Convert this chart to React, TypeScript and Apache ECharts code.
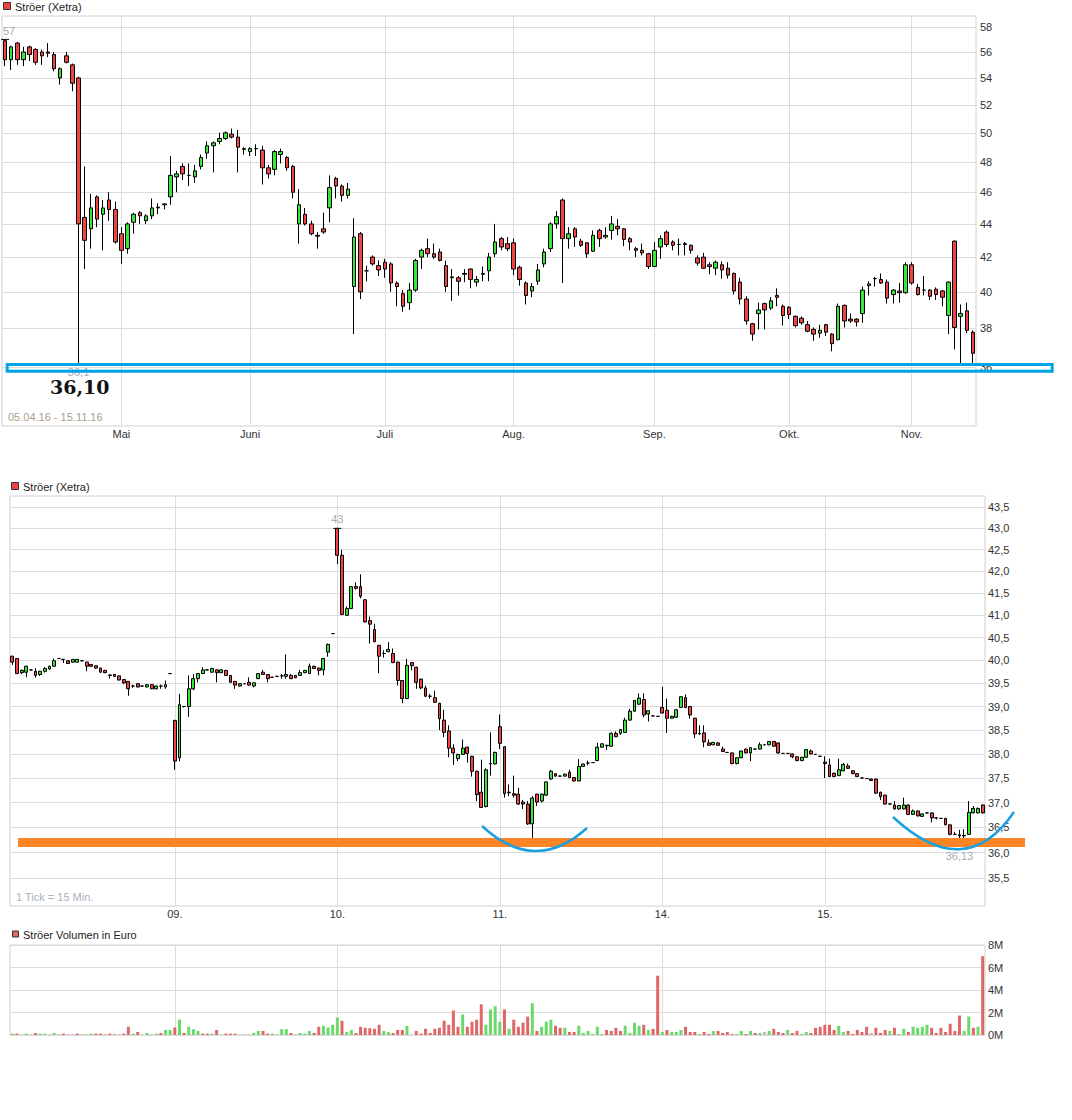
import React, { useEffect, useRef } from 'react';
import * as echarts from 'echarts';

// ---------- categories / ticks ----------
const holidays = ['2016-05-16', '2016-10-03'];
const monthNames = ['Jan.', 'Feb.', 'März', 'April', 'Mai', 'Juni', 'Juli', 'Aug.', 'Sep.', 'Okt.', 'Nov.', 'Dez.'];
const topTicks = [36, 38, 40, 42, 44, 46, 48, 50, 52, 54, 56, 58];
const midTicks = [35.5, 36, 36.5, 37, 37.5, 38, 38.5, 39, 39.5, 40, 40.5, 41, 41.5, 42, 42.5, 43, 43.5];
const intradayDayLabels = ['08.', '09.', '10.', '11.', '14.', '15.'];
const slotsPerDay = 35;

// ---------- daily OHLC [open, close, low, high] ----------
const apr = [
  [56.9, 55.4, 54.9, 57.0], [55.4, 56.4, 54.6, 56.5], [56.7, 55.4, 55.0, 56.8], [55.4, 56.0, 54.9, 56.4],
  [56.4, 55.8, 55.3, 56.5], [56.2, 55.2, 55.0, 56.3], [56.0, 55.7, 55.0, 56.2], [56.0, 55.9, 55.6, 56.7],
  [55.8, 54.7, 54.5, 56.0], [54.0, 54.7, 53.5, 54.8], [55.7, 55.2, 55.1, 56.0], [55.0, 53.6, 53.0, 55.1],
  [54.0, 44.0, 36.1, 54.1], [44.4, 43.0, 41.3, 47.7], [43.7, 45.0, 42.5, 45.9], [45.7, 44.3, 43.8, 45.8],
  [44.6, 45.0, 42.4, 45.5], [45.5, 44.9, 44.2, 46.0], [44.9, 42.9, 42.8, 45.4],
];
const may = [
  [43.4, 42.4, 41.6, 43.8], [42.5, 44.0, 42.2, 44.1], [44.1, 44.6, 43.4, 44.7], [44.7, 44.5, 44.0, 44.8],
  [44.2, 44.5, 44.0, 44.6], [44.5, 45.0, 44.3, 45.6], [45.0, 45.05, 44.6, 45.3], [45.2, 45.25, 44.9, 45.3],
  [45.7, 47.1, 45.2, 48.4], [47.0, 47.2, 46.0, 47.4], [47.7, 47.2, 46.8, 47.9], [47.1, 47.1, 46.4, 47.9],
  [47.0, 47.4, 46.6, 47.8], [47.7, 48.3, 47.5, 48.5], [48.6, 49.1, 48.2, 49.4], [49.1, 49.3, 47.3, 49.4],
  [49.4, 49.6, 49.2, 50.0], [49.6, 50.0, 49.5, 50.1], [49.9, 49.7, 49.6, 50.3], [49.7, 49.0, 47.3, 50.2],
  [48.9, 48.85, 48.5, 49.0],
];
const jun = [
  [48.7, 48.9, 48.4, 49.0], [48.9, 48.9, 48.4, 49.2], [48.8, 47.6, 46.5, 49.1], [47.6, 47.2, 46.9, 47.8],
  [47.5, 48.7, 47.1, 48.8], [48.5, 48.7, 47.9, 48.9], [48.3, 47.6, 47.4, 48.4], [47.7, 46.0, 45.6, 47.8],
  [44.0, 45.2, 42.8, 46.2], [44.6, 44.0, 43.9, 45.0], [44.0, 43.4, 43.3, 44.2], [43.3, 43.25, 42.5, 43.5],
  [43.7, 43.5, 43.4, 44.7], [45.0, 46.3, 44.1, 47.1], [46.9, 46.4, 45.6, 47.0], [46.4, 45.8, 45.4, 46.5],
  [45.8, 46.2, 45.6, 46.6], [40.3, 43.2, 37.7, 44.35], [43.4, 40.0, 39.6, 43.5], [41.2, 41.2, 40.6, 41.5],
  [42.0, 41.6, 41.5, 42.1], [41.5, 41.25, 40.9, 41.8],
];
const jul = [
  [41.7, 41.3, 40.8, 41.9], [41.6, 40.5, 40.0, 41.7], [40.5, 40.3, 39.2, 40.6], [39.9, 39.2, 38.9, 40.1],
  [39.4, 40.1, 39.0, 40.5], [40.1, 41.8, 40.0, 41.9], [42.0, 42.4, 41.3, 42.5], [42.5, 42.2, 42.0, 43.1],
  [42.2, 42.0, 41.9, 42.8], [42.3, 41.8, 41.75, 42.5], [41.5, 40.3, 40.0, 41.8], [40.85, 40.8, 39.5, 41.3],
  [40.8, 40.6, 39.8, 40.9], [41.05, 41.0, 40.55, 41.3], [41.3, 40.7, 40.2, 41.35], [40.55, 40.7, 40.3, 40.9],
  [41.05, 41.0, 40.6, 41.45], [41.2, 42.0, 40.6, 42.25], [42.2, 42.9, 42.0, 44.0], [43.1, 42.6, 42.4, 43.2],
  [42.8, 42.5, 42.35, 43.2],
];
const aug = [
  [42.85, 41.3, 40.95, 43.1], [41.4, 40.7, 40.35, 41.5], [40.5, 39.8, 39.3, 40.6], [40.05, 40.3, 39.7, 40.5],
  [40.6, 41.25, 40.4, 41.6], [41.6, 42.3, 41.4, 42.5], [42.5, 44.0, 42.3, 44.1], [44.0, 44.45, 43.7, 44.8],
  [45.5, 43.1, 40.5, 45.6], [43.1, 43.4, 42.5, 43.8], [43.7, 43.2, 42.6, 43.8], [42.95, 42.7, 42.6, 43.1],
  [42.85, 42.2, 41.95, 42.9], [42.35, 43.3, 42.3, 43.6], [43.6, 43.1, 42.6, 43.7], [43.2, 43.3, 43.1, 43.8],
  [43.6, 44.0, 43.05, 44.5], [43.85, 43.7, 43.3, 44.3], [43.7, 43.05, 42.65, 43.75], [43.1, 42.9, 42.4, 43.2],
  [42.5, 42.4, 42.0, 42.6], [42.4, 42.25, 42.1, 42.8], [42.2, 41.45, 41.3, 42.25],
];
const sep = [
  [41.45, 42.4, 41.45, 42.9], [42.6, 43.1, 41.9, 43.3], [43.5, 42.75, 42.6, 43.6], [42.9, 42.7, 42.4, 43.0],
  [42.75, 42.75, 42.1, 43.1], [42.8, 42.75, 42.1, 42.9], [42.7, 42.4, 42.2, 42.75], [41.95, 41.65, 41.5, 42.1],
  [42.0, 41.35, 41.3, 42.25], [41.55, 41.45, 41.0, 41.7], [41.35, 41.7, 40.95, 41.8], [41.55, 41.25, 40.75, 41.75],
  [41.35, 40.95, 40.75, 41.7], [41.05, 40.05, 39.85, 41.1], [40.55, 39.6, 39.3, 40.8], [39.6, 38.4, 38.2, 39.75],
  [38.25, 37.7, 37.35, 38.3], [38.8, 39.0, 37.95, 39.4], [39.35, 39.0, 37.95, 39.4], [39.1, 39.5, 39.0, 39.7],
  [39.8, 39.7, 39.2, 40.2], [39.2, 38.7, 38.15, 39.3],
];
const oct = [
  [39.15, 38.75, 38.5, 39.2], [38.65, 38.15, 38.05, 38.7], [38.55, 38.3, 38.2, 38.65], [38.2, 37.85, 37.8, 38.4],
  [37.95, 37.7, 37.35, 38.05], [37.75, 37.9, 37.5, 38.2], [38.2, 37.8, 37.6, 38.25], [37.7, 37.2, 36.8, 37.75],
  [37.4, 39.2, 37.4, 39.35], [39.25, 38.4, 38.05, 39.3], [38.5, 38.4, 38.3, 38.8], [38.5, 38.35, 38.1, 38.55],
  [38.8, 40.1, 38.3, 40.3], [40.35, 40.45, 39.8, 40.6], [40.75, 40.75, 40.3, 40.85], [40.7, 40.5, 40.45, 41.05],
  [40.55, 39.65, 39.35, 40.7], [39.85, 40.1, 39.35, 40.15], [40.05, 39.95, 39.4, 40.5], [39.95, 41.55, 39.9, 41.7],
];
const nov = [
  [41.55, 40.5, 40.4, 41.7], [40.25, 39.85, 39.8, 40.45], [40.1, 40.1, 39.8, 40.9], [40.1, 39.75, 39.55, 40.15],
  [40.15, 39.85, 39.55, 40.25], [40.05, 39.7, 39.2, 40.1], [38.7, 40.55, 37.7, 40.6], [42.95, 38.05, 36.9, 43.0],
  [38.65, 38.8, 36.2, 39.3], [38.95, 37.9, 37.75, 39.4], [37.8, 36.7, 36.15, 37.9],
];

// ---------- 15-min OHLC [open, close, low, high] ----------
const d08 = [
  [40.09, 39.96, 39.90, 40.10], [40.04, 39.71, 39.70, 40.05], [39.73, 39.78, 39.70, 39.80], [39.74, 39.87, 39.63, 39.88],
  [39.79, 39.79, 39.78, 39.80], [39.76, 39.67, 39.62, 39.83], [39.69, 39.76, 39.66, 39.77], [39.76, 39.82, 39.73, 39.85],
  [39.81, 39.87, 39.80, 39.88], [39.87, 39.99, 39.86, 40.04], [40.04, 40.04, 40.03, 40.05], [40.02, 40.02, 39.94, 40.02],
  [39.99, 39.93, 39.92, 40.00], [39.96, 40.02, 39.95, 40.03], [39.96, 40.02, 39.95, 40.03], [39.99, 39.99, 39.98, 40.00],
  [39.96, 39.87, 39.76, 39.97], [39.91, 39.87, 39.86, 39.92], [39.88, 39.83, 39.82, 39.89], [39.83, 39.74, 39.73, 39.84],
  [39.78, 39.73, 39.72, 39.79], [39.68, 39.67, 39.60, 39.69], [39.69, 39.65, 39.64, 39.70], [39.66, 39.57, 39.56, 39.67],
  [39.58, 39.51, 39.48, 39.59], [39.54, 39.38, 39.23, 39.55], [39.44, 39.44, 39.40, 39.47], [39.49, 39.42, 39.41, 39.50],
  [39.44, 39.44, 39.43, 39.45], [39.42, 39.47, 39.41, 39.48], [39.47, 39.38, 39.37, 39.48], [39.38, 39.44, 39.37, 39.45],
  [39.44, 39.44, 39.38, 39.47], [39.42, 39.47, 39.38, 39.56], [39.71, 39.71, 39.71, 39.71],
];
const d09 = [
  [38.70, 37.85, 37.67, 38.72], [37.92, 39.04, 37.85, 39.27], [39.00, 39.00, 38.98, 39.01], [39.00, 39.38, 38.78, 39.67],
  [39.38, 39.60, 39.35, 39.70], [39.60, 39.71, 39.52, 39.72], [39.71, 39.79, 39.70, 39.85], [39.79, 39.79, 39.78, 39.80],
  [39.74, 39.82, 39.73, 39.84], [39.79, 39.73, 39.52, 39.80], [39.73, 39.79, 39.72, 39.81], [39.78, 39.67, 39.66, 39.79],
  [39.67, 39.52, 39.51, 39.68], [39.54, 39.46, 39.38, 39.55], [39.44, 39.49, 39.43, 39.50], [39.49, 39.49, 39.48, 39.50],
  [39.52, 39.46, 39.45, 39.63], [39.44, 39.51, 39.41, 39.52], [39.60, 39.71, 39.59, 39.72], [39.74, 39.69, 39.68, 39.79],
  [39.69, 39.60, 39.52, 39.70], [39.63, 39.63, 39.62, 39.64], [39.65, 39.65, 39.64, 39.66], [39.66, 39.66, 39.60, 39.70],
  [39.65, 39.69, 39.60, 40.13], [39.67, 39.60, 39.59, 39.70], [39.67, 39.62, 39.61, 39.68], [39.67, 39.73, 39.66, 39.79],
  [39.73, 39.78, 39.72, 39.79], [39.71, 39.87, 39.70, 39.93], [39.87, 39.82, 39.81, 39.88], [39.83, 39.78, 39.67, 39.84],
  [39.79, 40.04, 39.67, 40.05], [40.18, 40.35, 40.08, 40.37], [40.59, 40.59, 40.59, 40.59],
];
const d10 = [
  [43.00, 42.37, 42.17, 43.00], [42.37, 41.02, 41.00, 42.50], [41.00, 41.15, 40.98, 41.20], [41.15, 41.65, 41.14, 41.66],
  [41.65, 41.61, 41.58, 41.75], [41.65, 41.43, 41.38, 41.93], [41.35, 40.85, 40.84, 41.36], [40.88, 40.80, 40.37, 40.97],
  [40.68, 40.41, 40.40, 40.81], [40.33, 40.09, 39.72, 40.34], [40.15, 40.15, 40.06, 40.22], [40.19, 40.24, 40.18, 40.40],
  [40.15, 39.95, 39.94, 40.26], [39.96, 39.56, 39.45, 39.97], [39.56, 39.17, 39.07, 39.57], [39.17, 39.89, 39.16, 40.03],
  [39.95, 39.88, 39.78, 39.96], [39.85, 39.52, 39.38, 39.86], [39.59, 39.40, 39.37, 39.60], [39.40, 39.22, 39.20, 39.45],
  [39.22, 39.22, 39.17, 39.27], [39.19, 39.09, 39.08, 39.34], [39.07, 38.74, 38.50, 39.08], [38.71, 38.45, 38.35, 38.93],
  [38.48, 38.12, 37.93, 38.60], [38.12, 38.02, 37.77, 38.20], [37.90, 37.99, 37.85, 38.00], [37.99, 38.12, 37.98, 38.30],
  [38.14, 38.01, 37.82, 38.15], [37.95, 37.64, 37.53, 37.96], [37.64, 37.16, 37.03, 37.65], [37.21, 36.90, 36.90, 37.88],
  [36.92, 37.67, 36.90, 37.70], [37.79, 37.80, 37.55, 38.45], [37.79, 38.03, 37.78, 38.05],
];
const d11 = [
  [38.57, 38.22, 38.10, 38.83], [38.15, 37.18, 37.10, 38.16], [37.20, 37.21, 37.13, 37.37], [37.18, 37.15, 37.10, 37.55],
  [37.17, 36.97, 36.95, 37.30], [37.01, 36.97, 36.87, 37.05], [36.97, 36.57, 36.55, 37.03], [36.57, 37.09, 36.29, 37.13],
  [37.17, 37.01, 36.93, 37.18], [37.03, 37.17, 37.00, 37.18], [37.15, 37.42, 37.14, 37.43], [37.48, 37.64, 37.46, 37.67],
  [37.59, 37.54, 37.53, 37.60], [37.54, 37.54, 37.53, 37.55], [37.54, 37.58, 37.53, 37.59], [37.62, 37.51, 37.50, 37.67],
  [37.51, 37.44, 37.43, 37.52], [37.44, 37.74, 37.43, 37.89], [37.74, 37.79, 37.73, 37.80], [37.81, 37.81, 37.76, 37.86],
  [37.82, 37.82, 37.81, 37.83], [37.86, 38.14, 37.85, 38.23], [38.14, 38.21, 38.13, 38.22], [38.17, 38.18, 38.08, 38.19],
  [38.16, 38.43, 38.15, 38.45], [38.43, 38.36, 38.35, 38.47], [38.43, 38.51, 38.40, 38.52], [38.45, 38.71, 38.44, 38.76],
  [38.71, 38.90, 38.70, 38.95], [38.90, 39.13, 38.89, 39.14], [39.05, 39.18, 39.03, 39.28], [39.15, 38.82, 38.77, 39.28],
  [38.84, 38.91, 38.68, 38.92], [38.80, 38.80, 38.79, 38.81], [38.79, 38.79, 38.79, 38.79],
];
const d14 = [
  [38.98, 38.86, 38.85, 39.42], [38.92, 38.75, 38.44, 39.17], [38.75, 38.79, 38.74, 38.80], [38.77, 38.93, 38.76, 38.94],
  [38.98, 39.21, 38.97, 39.22], [39.19, 38.98, 38.96, 39.26], [39.00, 38.82, 38.74, 39.01], [38.75, 38.42, 38.33, 38.76],
  [38.43, 38.42, 38.40, 38.60], [38.44, 38.25, 38.14, 38.60], [38.23, 38.18, 38.17, 38.30], [38.19, 38.24, 38.18, 38.25],
  [38.23, 38.18, 38.17, 38.24], [38.10, 38.05, 38.04, 38.15], [38.03, 38.03, 38.02, 38.04], [38.02, 37.80, 37.78, 38.03],
  [37.80, 37.92, 37.78, 37.93], [37.92, 38.06, 37.91, 38.07], [38.10, 38.02, 38.01, 38.11], [38.02, 38.13, 37.85, 38.14],
  [38.10, 38.10, 38.09, 38.11], [38.10, 38.19, 38.09, 38.24], [38.19, 38.19, 38.18, 38.20], [38.19, 38.26, 38.18, 38.27],
  [38.26, 38.16, 38.15, 38.27], [38.23, 38.02, 38.00, 38.24], [38.01, 38.01, 38.00, 38.02], [38.01, 38.01, 38.00, 38.02],
  [38.00, 37.94, 37.91, 38.01], [37.94, 37.86, 37.85, 37.95], [37.86, 37.93, 37.85, 37.94], [37.93, 38.09, 37.92, 38.10],
  [38.06, 38.00, 37.99, 38.09], [37.99, 37.99, 37.98, 38.00], [37.95, 37.95, 37.94, 37.96],
];
const d15 = [
  [37.83, 37.80, 37.50, 37.95], [37.77, 37.53, 37.52, 37.90], [37.60, 37.53, 37.52, 37.61], [37.55, 37.67, 37.54, 37.90],
  [37.65, 37.78, 37.64, 37.81], [37.75, 37.70, 37.69, 37.80], [37.65, 37.59, 37.58, 37.66], [37.59, 37.53, 37.52, 37.60],
  [37.50, 37.50, 37.49, 37.51], [37.49, 37.49, 37.48, 37.50], [37.48, 37.45, 37.44, 37.49], [37.48, 37.19, 37.18, 37.49],
  [37.21, 37.12, 37.05, 37.22], [37.15, 36.97, 36.96, 37.16], [36.97, 36.97, 36.96, 36.98], [36.95, 36.87, 36.86, 37.03],
  [36.87, 36.94, 36.86, 36.95], [36.87, 36.95, 36.86, 37.10], [36.95, 36.76, 36.75, 36.96], [36.76, 36.83, 36.75, 36.86],
  [36.83, 36.73, 36.72, 36.84], [36.72, 36.77, 36.71, 36.78], [36.79, 36.79, 36.78, 36.81], [36.79, 36.69, 36.60, 36.80],
  [36.69, 36.69, 36.66, 36.70], [36.68, 36.68, 36.67, 36.69], [36.68, 36.55, 36.54, 36.69], [36.55, 36.36, 36.34, 36.56],
  [36.36, 36.36, 36.35, 36.41], [36.35, 36.33, 36.13, 36.45], [36.34, 36.33, 36.15, 36.46], [36.36, 36.80, 36.35, 37.03],
  [36.79, 36.88, 36.78, 36.93], [36.79, 36.88, 36.78, 36.90], [36.95, 36.79, 36.78, 36.96],
];

// ---------- volume in million EUR, direction g/r/n per 15-min ----------
const v08 = [.12, .12, .03, .12, .03, .18, .12, .12, .03, .18, .03, .12, .03, .03, .12, .03, .03, .12, .12, .12, .03, .12, .12, .03, .12, .73, .12, .27, .03, .18, .03, .12, .18, .45, .45];
const v09 = [.67, 1.36, .18, .73, .52, .36, .12, .12, .12, .45, .03, .12, .12, .12, .03, .03, .03, .18, .36, .36, .12, .12, .03, .52, .52, .18, .03, .18, .12, .36, .18, .73, .82, .67, .91];
const v10 = [1.55, 1.27, .27, .45, .18, .73, .64, .6, .55, .91, .36, .27, .18, .45, .45, .82, .03, .36, .12, .55, .18, .55, .64, 1.27, .91, 2.18, .73, 1.82, .73, 1.18, 1.36, 2.73, .91, 2.27, 2.55];
const v11 = [1.18, 2.27, .55, 1.36, .73, 1.09, 1.64, 2.82, .36, .73, 1.18, 1.36, .82, .64, .64, .27, .27, .82, .18, .36, .09, .73, .09, .45, .36, .64, .36, .82, .18, 1.09, .82, .91, .45, .55, 5.27];
const v14 = [.27, .45, .27, .27, .45, .73, .27, .27, .09, .27, .09, .36, .36, .18, .27, .09, .09, .36, .09, .36, .18, .18, .27, .36, .55, .27, .18, .45, .18, .36, .09, .27, .18, .64, .73];
const v15 = [.91, .91, .45, .82, .27, .36, .09, .45, .27, .73, .18, .64, .18, .45, .36, .64, .09, .55, .27, .73, .64, .73, .91, .64, .18, .64, .27, 1.0, .36, 1.73, .36, 1.64, .64, .73, 7.0];
const dir08 = 'grggr' + 'rgggg' + 'rrrrr' + 'rrgrr' + 'rrnrr' + 'rgrgg' + 'rgrgg';
const dir09 = 'rgrgg' + 'grrgr' + 'grrrg' + 'rrggr' + 'rgggg' + 'rrggg' + 'rrggg';
const dir10 = 'grggr' + 'rrrrr' + 'ggrrr' + 'gnrrr' + 'rrrrr' + 'rrgrr' + 'rrggg';
const dir11 = 'grgrr' + 'rrgrg' + 'ggrrg' + 'rrggg' + 'gggrr' + 'rrggg' + 'grgrr';
const dir14 = 'grggg' + 'rrrgr' + 'rgrrr' + 'rggrg' + 'rgngr' + 'rrgrr' + 'ggrrr';
const dir15 = 'rrrgg' + 'rrrrr' + 'nrrrg' + 'rggrg' + 'gggrr' + 'rrrrr' + 'ggrgr';

// ---------- styles ----------
const FONT = '"Liberation Sans", Arial, Helvetica, sans-serif';
const RED = '#f04444';
const GREEN = '#38e638';
const VRED = '#e06767';
const VGREEN = '#6ada6a';
const VGREY = '#bdbdbd';
const GRID = '#dcdcdc';

function buildDates(): string[] {
  const out: string[] = [];
  const d = new Date(Date.UTC(2016, 3, 5));
  const end = Date.UTC(2016, 10, 15);
  while (d.getTime() <= end) {
    const wd = d.getUTCDay();
    const s = d.toISOString().slice(0, 10);
    if (wd !== 0 && wd !== 6 && holidays.indexOf(s) < 0) out.push(s);
    d.setUTCDate(d.getUTCDate() + 1);
  }
  return out;
}

function fmtNum(v: number) {
  return String(Math.round(v * 100) / 100).replace('.', ',');
}

function argBy(arr: number[][], idx: number, cmp: (a: number, b: number) => boolean) {
  let best = 0;
  arr.forEach((r, i) => { if (cmp(r[idx], arr[best][idx])) best = i; });
  return best;
}

function buildOption() {
  const daily = [apr, may, jun, jul, aug, sep, oct, nov].flat();
  const dates = buildDates().slice(0, daily.length);
  const intraday = [d08, d09, d10, d11, d14, d15].flat();
  const intraCats: string[] = [];
  intradayDayLabels.forEach((day) => {
    for (let s = 0; s < slotsPerDay; s++) {
      const m = 9 * 60 + 15 * s;
      intraCats.push(`${day}11. ${String(Math.floor(m / 60)).padStart(2, '0')}:${String(m % 60).padStart(2, '0')}`);
    }
  });
  const vols = [v08, v09, v10, v11, v14, v15].flat();
  const dirs = (dir08 + dir09 + dir10 + dir11 + dir14 + dir15).split('');
  const dirColor: Record<string, string> = { g: VGREEN, r: VRED, n: VGREY };

  const L = Math.log;
  const toLn = (r: number[]) => [L(r[0]), L(r[1]), L(r[2]), L(r[3])];

  const monthChange = (i: number) => i > 0 && dates[i].slice(5, 7) !== dates[i - 1].slice(5, 7);
  const dayChange = (i: number) => i > 0 && i % slotsPerDay === 0;

  const dMax = argBy(daily, 3, (a, b) => a > b);
  const dMin = argBy(daily, 2, (a, b) => a < b);
  const iMax = argBy(intraday, 3, (a, b) => a > b);
  const iMin = argBy(intraday, 2, (a, b) => a < b);

  const candleStyle = {
    color: GREEN, color0: RED,
    borderColor: '#000', borderColor0: '#000', borderColorDoji: '#000', borderWidth: 1,
  };
  const markLabel = { show: true, color: '#a3abb5', fontSize: 11, fontFamily: FONT, formatter: '{b}' };

  const axisLabelBase = { color: '#333', fontSize: 11, fontFamily: FONT };

  return {
    animation: false,
    textStyle: { fontFamily: FONT },
    grid: [
      { left: 2, top: 16, width: 974, height: 410, show: true, borderColor: '#d0d0d0', borderWidth: 1 },
      { left: 10, top: 496, width: 975, height: 410, show: true, borderColor: '#d0d0d0', borderWidth: 1 },
      { left: 10, top: 945, width: 975, height: 90, show: true, borderColor: '#d0d0d0', borderWidth: 1 },
    ],
    xAxis: [
      {
        type: 'category', gridIndex: 0, data: dates, boundaryGap: true,
        axisLine: { show: false }, axisTick: { show: false },
        axisLabel: { ...axisLabelBase, margin: 2, interval: (i: number) => monthChange(i),
          formatter: (v: string) => monthNames[parseInt(v.slice(5, 7), 10) - 1] },
        splitLine: { show: true, interval: (i: number) => monthChange(i), alignWithLabel: true, lineStyle: { color: GRID } },
      },
      {
        type: 'category', gridIndex: 1, data: intraCats, boundaryGap: true,
        axisLine: { show: false }, axisTick: { show: false },
        axisLabel: { ...axisLabelBase, margin: 2, interval: (i: number) => dayChange(i), formatter: (v: string) => v.slice(0, 3) },
        splitLine: { show: true, interval: (i: number) => dayChange(i), alignWithLabel: true, lineStyle: { color: GRID } },
      },
      {
        type: 'category', gridIndex: 2, data: intraCats, boundaryGap: true,
        axisLine: { show: false }, axisTick: { show: false }, axisLabel: { show: false },
        splitLine: { show: true, interval: (i: number) => dayChange(i), alignWithLabel: true, lineStyle: { color: GRID } },
      },
    ],
    yAxis: [
      {
        type: 'value', gridIndex: 0, position: 'right', min: L(33.14), max: L(58.9),
        axisLine: { show: false },
        axisTick: { show: false, customValues: topTicks.map(L) },
        axisLabel: { ...axisLabelBase, margin: 4, customValues: topTicks.map(L), formatter: (v: number) => String(Math.round(Math.exp(v))) },
        splitLine: { show: true, lineStyle: { color: GRID } },
      },
      {
        type: 'value', gridIndex: 1, position: 'right', min: L(34.96), max: L(43.77),
        axisLine: { show: false },
        axisTick: { show: false, customValues: midTicks.map(L) },
        axisLabel: { ...axisLabelBase, margin: 3, customValues: midTicks.map(L),
          formatter: (v: number) => (Math.round(Math.exp(v) * 2) / 2).toFixed(1).replace('.', ',') },
        splitLine: { show: true, lineStyle: { color: GRID } },
      },
      {
        type: 'value', gridIndex: 2, position: 'right', min: 0, max: 8, interval: 2,
        axisLine: { show: false }, axisTick: { show: false },
        axisLabel: { ...axisLabelBase, margin: 3, formatter: (v: number) => `${v}M` },
        splitLine: { show: true, lineStyle: { color: GRID } },
      },
    ],
    series: [
      {
        type: 'candlestick', xAxisIndex: 0, yAxisIndex: 0, barWidth: 4,
        data: daily.map(toLn), itemStyle: candleStyle,
        markPoint: {
          silent: true, symbol: 'rect', symbolSize: [8, 1], itemStyle: { color: '#000' }, label: markLabel,
          data: [
            { name: fmtNum(daily[dMax][3]), coord: [dates[dMax], L(daily[dMax][3])], label: { position: 'top', distance: 2, offset: [4, 0] } },
            { name: fmtNum(daily[dMin][2]), coord: [dates[dMin], L(daily[dMin][2])], label: { position: 'bottom', distance: 1 } },
          ],
        },
      },
      {
        type: 'candlestick', xAxisIndex: 1, yAxisIndex: 1, barWidth: 3.4,
        data: intraday.map(toLn), itemStyle: candleStyle,
        markPoint: {
          silent: true, symbol: 'rect', symbolSize: [8, 1], itemStyle: { color: '#000' }, label: markLabel,
          data: [
            { name: fmtNum(intraday[iMax][3]), coord: [intraCats[iMax], L(intraday[iMax][3])], label: { position: 'top', distance: 3 } },
            { name: fmtNum(intraday[iMin][2]), coord: [intraCats[iMin], L(intraday[iMin][2])], label: { position: 'bottom', distance: 4 } },
          ],
        },
      },
      {
        type: 'bar', xAxisIndex: 2, yAxisIndex: 2, barWidth: 3,
        data: vols.map((v, i) => ({ value: v, itemStyle: { color: dirColor[dirs[i]] || VGREY } })),
      },
    ],
    graphic: [
      { type: 'rect', shape: { x: 3.5, y: 2.5, width: 7, height: 7 }, style: { fill: RED, stroke: '#333', lineWidth: 1 } },
      { type: 'text', x: 15, y: 6.5, style: { text: 'Ströer (Xetra)', fill: '#222', font: `11px ${FONT}`, verticalAlign: 'middle' } },
      { type: 'text', x: 8, y: 417, style: { text: '05.04.16 - 15.11.16', fill: '#ab9e8c', font: `11px ${FONT}`, verticalAlign: 'middle' } },
      { type: 'text', x: 50, y: 387, style: { text: '36,10', fill: '#111', font: `bold 19px "DejaVu Serif", serif`, verticalAlign: 'middle' } },
      { type: 'rect', z: 100, shape: { x: 7.2, y: 364.5, width: 1045, height: 6.8 }, style: { fill: 'none', stroke: '#00a2e8', lineWidth: 3 } },

      { type: 'rect', shape: { x: 11.5, y: 482.5, width: 7, height: 7 }, style: { fill: RED, stroke: '#333', lineWidth: 1 } },
      { type: 'text', x: 23, y: 486.5, style: { text: 'Ströer (Xetra)', fill: '#222', font: `11px ${FONT}`, verticalAlign: 'middle' } },
      { type: 'text', x: 16, y: 897, style: { text: '1 Tick = 15 Min.', fill: '#a8b1c0', font: `11px ${FONT}`, verticalAlign: 'middle' } },
      { type: 'rect', z: 50, shape: { x: 18, y: 838, width: 1007, height: 9 }, style: { fill: '#ff8426' } },
      { type: 'bezierCurve', z: 60, shape: { x1: 482, y1: 826, x2: 587, y2: 828, cpx1: 535, cpy1: 875 }, style: { stroke: '#1ba0e0', lineWidth: 2.5, fill: 'none' } },
      { type: 'bezierCurve', z: 60, shape: { x1: 893, y1: 817, x2: 1014, y2: 812, cpx1: 965, cpy1: 884 }, style: { stroke: '#1ba0e0', lineWidth: 2.5, fill: 'none' } },

      { type: 'rect', shape: { x: 12.5, y: 931, width: 6, height: 6 }, style: { fill: VRED, stroke: '#333', lineWidth: 1 } },
      { type: 'text', x: 23, y: 934.5, style: { text: 'Ströer Volumen in Euro', fill: '#222', font: `11px ${FONT}`, verticalAlign: 'middle' } },
    ],
  };
}

export default function App() {
  const ref = useRef<HTMLDivElement>(null);
  useEffect(() => {
    document.body.style.margin = '0';
    const chart = echarts.init(ref.current as HTMLDivElement, null, { renderer: 'svg' });
    chart.setOption(buildOption() as any);
    return () => chart.dispose();
  }, []);
  return <div ref={ref} style={{ width: 1072, height: 1120 }} />;
}
